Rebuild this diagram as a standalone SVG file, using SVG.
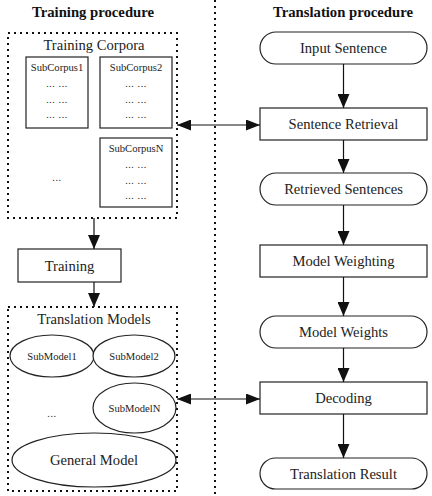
<svg xmlns="http://www.w3.org/2000/svg" width="432" height="496" viewBox="0 0 432 496" font-family="'Liberation Serif', 'Times New Roman', serif">
<style>
text{font-family:'Liberation Serif','Times New Roman',serif;fill:#222;text-anchor:middle;dominant-baseline:central}
.t{font-weight:bold;font-size:14.7px;fill:#111}
.n{font-size:14.6px}
.s{font-size:10.6px}
.d{font-size:10px;letter-spacing:0.6px}
.box{fill:#fff;stroke:#222;stroke-width:1.2}
.grp{fill:none;stroke:#111;stroke-width:2;stroke-dasharray:2,4}
.c{stroke:#111;stroke-width:1.2;fill:none}
</style>
<defs>
<marker id="ah" viewBox="0 0 14 12" refX="14" refY="6" markerWidth="14" markerHeight="12" markerUnits="userSpaceOnUse" orient="auto-start-reverse">
<path d="M0,0 L14,6 L0,12 z" fill="#111"/>
</marker>
<marker id="ahv" viewBox="0 0 14 11" refX="14" refY="5.5" markerWidth="14" markerHeight="11" markerUnits="userSpaceOnUse" orient="auto-start-reverse">
<path d="M0,0 L14,5.5 L0,11 z" fill="#111"/>
</marker>
</defs>

<line x1="215" y1="0" x2="215" y2="496" stroke="#111" stroke-width="2" stroke-dasharray="2,4"/>
<text class="t" x="93" y="12">Training procedure</text>
<text class="t" x="343" y="12">Translation procedure</text>

<g id="training-corpora">
<rect class="grp" x="8" y="33" width="169" height="185"/>
<text class="n" x="94" y="45">Training Corpora</text>
</g>
<g id="subcorpus1">
<rect class="box" x="26" y="57" width="62" height="71"/>
<text class="s" x="57" y="67">SubCorpus1</text>
<text class="d" x="57" y="83">... ...</text>
<text class="d" x="57" y="99">... ...</text>
<text class="d" x="57" y="114">... ...</text>
</g>
<g id="subcorpus2">
<rect class="box" x="100" y="57" width="72" height="71"/>
<text class="s" x="136" y="67">SubCorpus2</text>
<text class="d" x="136" y="83">... ...</text>
<text class="d" x="136" y="99">... ...</text>
<text class="d" x="136" y="114">... ...</text>
</g>
<g id="subcorpusN">
<rect class="box" x="100" y="138" width="72" height="69"/>
<text class="s" x="136" y="148">SubCorpusN</text>
<text class="d" x="136" y="164">... ...</text>
<text class="d" x="136" y="180">... ...</text>
<text class="d" x="136" y="195">... ...</text>
</g>
<text class="d" x="57" y="177">...</text>

<g id="training">
<rect class="box" x="18" y="249" width="103" height="33"/>
<text class="n" x="69.5" y="265.5">Training</text>
</g>

<g id="translation-models">
<rect class="grp" x="8" y="307" width="169" height="184"/>
<text class="n" x="94" y="319">Translation Models</text>
</g>
<g id="submodel1">
<ellipse class="box" cx="52" cy="356" rx="42" ry="21"/>
<text class="s" x="52" y="356">SubModel1</text>
</g>
<g id="submodel2">
<ellipse class="box" cx="134" cy="356" rx="41" ry="21"/>
<text class="s" x="134" y="356">SubModel2</text>
</g>
<g id="submodelN">
<ellipse class="box" cx="134.5" cy="408" rx="41.5" ry="25"/>
<text class="s" x="134.5" y="408">SubModelN</text>
</g>
<text class="d" x="52" y="413">...</text>
<g id="general-model">
<ellipse class="box" cx="94" cy="460" rx="82" ry="27"/>
<text class="n" x="94" y="460">General Model</text>
</g>

<g id="input-sentence">
<rect class="box" x="260" y="32" width="167" height="32" rx="16"/>
<text class="n" x="343.5" y="48">Input Sentence</text>
</g>
<g id="sentence-retrieval">
<rect class="box" x="260" y="108" width="167" height="32"/>
<text class="n" x="343.5" y="124">Sentence Retrieval</text>
</g>
<g id="retrieved-sentences">
<rect class="box" x="260" y="173" width="167" height="32" rx="16"/>
<text class="n" x="343.5" y="189">Retrieved Sentences</text>
</g>
<g id="model-weighting">
<rect class="box" x="260" y="245" width="167" height="32"/>
<text class="n" x="343.5" y="261">Model Weighting</text>
</g>
<g id="model-weights">
<rect class="box" x="260" y="316" width="167" height="32" rx="16"/>
<text class="n" x="343.5" y="332">Model Weights</text>
</g>
<g id="decoding">
<rect class="box" x="260" y="382" width="167" height="32"/>
<text class="n" x="343.5" y="398">Decoding</text>
</g>
<g id="translation-result">
<rect class="box" x="260" y="458" width="167" height="31" rx="15.5"/>
<text class="n" x="343.5" y="473.5">Translation Result</text>
</g>

<g id="connectors">
<line class="c" x1="343.5" y1="64" x2="343.5" y2="108" marker-end="url(#ah)"/>
<line class="c" x1="343.5" y1="140" x2="343.5" y2="173" marker-end="url(#ah)"/>
<line class="c" x1="343.5" y1="205" x2="343.5" y2="245" marker-end="url(#ah)"/>
<line class="c" x1="343.5" y1="277" x2="343.5" y2="316" marker-end="url(#ah)"/>
<line class="c" x1="343.5" y1="348" x2="343.5" y2="382" marker-end="url(#ah)"/>
<line class="c" x1="343.5" y1="414" x2="343.5" y2="458" marker-end="url(#ah)"/>
<line class="c" x1="94" y1="218" x2="94" y2="249" marker-end="url(#ah)"/>
<line class="c" x1="94" y1="282" x2="94" y2="307" marker-end="url(#ah)"/>
<line class="c" x1="177" y1="125" x2="260" y2="125" marker-start="url(#ahv)" marker-end="url(#ahv)"/>
<line class="c" x1="177" y1="399" x2="260" y2="399" marker-start="url(#ahv)" marker-end="url(#ahv)"/>
</g>
</svg>
